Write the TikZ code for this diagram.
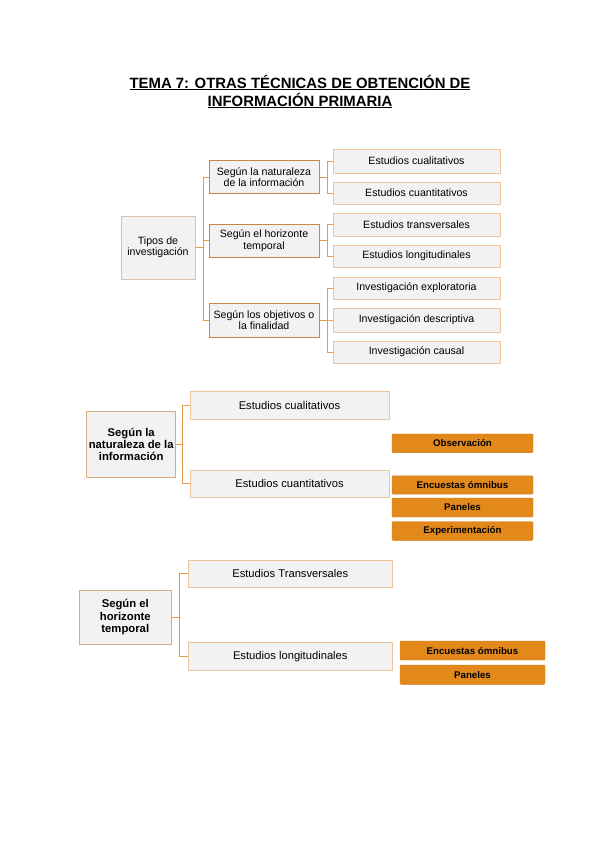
\documentclass[tikz,border=0pt]{standalone}
\usepackage{fontspec}
\setmainfont{Liberation Sans}
\definecolor{boxfill}{HTML}{F2F2F2}
\definecolor{midborder}{HTML}{C8864A}
\definecolor{lightborder}{HTML}{EDC49C}
\definecolor{leftborder}{HTML}{D8C2AC}
\definecolor{conn}{HTML}{E39A4A}
\definecolor{orangefill}{HTML}{E3891C}
\begin{document}
\begin{tikzpicture}[x=1pt,y=-1pt,
  base/.style={fill=boxfill,inner sep=1pt,align=center,font=\fontsize{10.6}{11.5}\selectfont},
  tipobox/.style={base,draw=leftborder,line width=0.8pt},
  midbox/.style={base,draw=midborder,line width=0.9pt},
  leafbox/.style={base,draw=lightborder,line width=0.8pt},
  bigleaf/.style={base,draw=lightborder,line width=0.9pt,font=\fontsize{11.2}{12}\selectfont},
  headbox/.style={base,draw=midborder!70,line width=0.9pt,font=\bfseries\fontsize{11.3}{12.2}\selectfont},
  obox/.style={fill=orangefill,draw=orangefill!90!black,line width=0.4pt,rounded corners=1pt,inner sep=0pt,align=center,font=\bfseries\fontsize{9.7}{10}\selectfont},
  link/.style={draw=conn,line width=0.9pt}
]
\useasboundingbox[fill=white] (0,0) rectangle (600,848);

% Title
\node[font=\bfseries\fontsize{14.9}{18}\selectfont,align=center] (title) at (300,91.5)
  {\underline{TEMA 7: OTRAS TÉCNICAS DE OBTENCIÓN DE}\\\underline{INFORMACIÓN PRIMARIA}};

% ---------- Section 1 ----------
\node[tipobox,minimum width=74pt,minimum height=63pt] (tipos) at (158,247.5) {Tipos de\\investigación};
\node[midbox,minimum width=110pt,minimum height=32.5pt] (nat) at (264,177) {Según la naturaleza\\de la información};
\node[midbox,minimum width=110pt,minimum height=33pt] (hor) at (264,240.5) {Según el horizonte\\temporal};
\node[midbox,minimum width=110pt,minimum height=34pt] (obj) at (264,320) {Según los objetivos o\\la finalidad};

\node[leafbox,minimum width=167pt,minimum height=24pt] (c1) at (416.5,161) {Estudios cualitativos};
\node[leafbox,minimum width=167pt,minimum height=22pt] (c2) at (416.5,193) {Estudios cuantitativos};
\node[leafbox,minimum width=167pt,minimum height=23pt] (c3) at (416.5,224.5) {Estudios transversales};
\node[leafbox,minimum width=167pt,minimum height=22pt] (c4) at (416.5,256) {Estudios longitudinales};
\node[leafbox,minimum width=167pt,minimum height=22pt] (c5) at (416.5,288) {Investigación exploratoria};
\node[leafbox,minimum width=167pt,minimum height=24pt] (c6) at (416.5,320) {Investigación descriptiva};
\node[leafbox,minimum width=167pt,minimum height=22pt] (c7) at (416.5,352) {Investigación causal};

\foreach \m in {nat,hor,obj}
  \draw[link] (tipos.east) -- ++(7.7,0) |- (\m.west);
\foreach \c in {c1,c2}
  \draw[link] (nat.east) -- ++(7.5,0) |- (\c.west);
\foreach \c in {c3,c4}
  \draw[link] (hor.east) -- ++(7.5,0) |- (\c.west);
\foreach \c in {c5,c6,c7}
  \draw[link] (obj.east) -- ++(7.5,0) |- (\c.west);

% ---------- Section 2 ----------
\node[headbox,minimum width=89pt,minimum height=66pt] (s2l) at (131.2,444.7) {Según la\\naturaleza de la\\información};
\node[bigleaf,minimum width=199pt,minimum height=27.6pt] (s2a) at (289.5,405.5) {Estudios cualitativos};
\node[bigleaf,minimum width=199pt,minimum height=27.7pt] (s2b) at (289.5,483.9) {Estudios cuantitativos};

\node[obox,minimum width=141pt,minimum height=18.7pt] (obs) at (462.5,443.3) {Observación};
\node[obox,minimum width=141pt,minimum height=18.3pt] (enc) at (462.5,484.9) {Encuestas ómnibus};
\node[obox,minimum width=141pt,minimum height=19pt] (pan) at (462.5,507.5) {Paneles};
\node[obox,minimum width=141pt,minimum height=18.6pt] (exper) at (462.5,531) {Experimentación};

\foreach \c in {s2a,s2b}
  \draw[link] (s2l.east) -- ++(6,0) |- (\c.west);

% ---------- Section 3 ----------
\node[headbox,minimum width=92.7pt,minimum height=54.3pt] (s3l) at (125.3,617.2) {Según el\\horizonte\\temporal};
\node[bigleaf,minimum width=204pt,minimum height=27.7pt] (s3a) at (290.3,573.8) {Estudios Transversales};
\node[bigleaf,minimum width=204pt,minimum height=27.7pt] (s3b) at (290.3,656.2) {Estudios longitudinales};

\node[obox,minimum width=145pt,minimum height=19pt] (enc2) at (472.5,650.5) {Encuestas ómnibus};
\node[obox,minimum width=145pt,minimum height=19.3pt] (pan2) at (472.5,674.7) {Paneles};

\foreach \c in {s3a,s3b}
  \draw[link] (s3l.east) -- ++(7.6,0) |- (\c.west);
\end{tikzpicture}
\end{document}
